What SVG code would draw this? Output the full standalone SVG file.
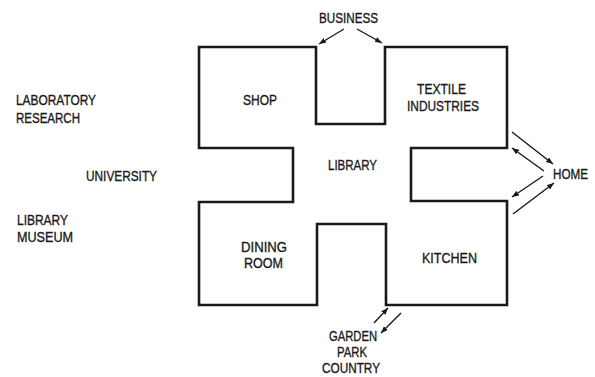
<svg xmlns="http://www.w3.org/2000/svg" width="595" height="377" viewBox="0 0 595 377">
<style>
text{font-family:"Liberation Sans",Arial,sans-serif;font-size:14.5px;fill:#1a1a1a;stroke:#1a1a1a;stroke-width:0.35;text-anchor:middle}
.plan{fill:none;stroke:#1a1a1a;stroke-width:2.6;stroke-linejoin:miter}
.arr{stroke:#1a1a1a;stroke-width:1.4;fill:none;marker-end:url(#ah)}
</style>
<defs>
<marker id="ah" viewBox="0 0 10 8" refX="10" refY="4" markerWidth="7" markerHeight="5.6" markerUnits="userSpaceOnUse" orient="auto">
<path d="M0,0 L10,4 L0,8 Z" fill="#1a1a1a"/>
</marker>
</defs>
<rect width="595" height="377" fill="#fff"/>
<g id="plan">
<path class="plan" d="M199,47 H316 V124 H385 V47 H507 V148 H411 V201 H507 V305 H386 V224 H317 V305 H199 V202 H293 V148 H199 Z"/>
</g>
<g id="rooms">
<g id="shop"><text x="260" y="104.5" textLength="34" lengthAdjust="spacingAndGlyphs">SHOP</text></g>
<g id="textile"><text x="441.5" y="93.5" textLength="49" lengthAdjust="spacingAndGlyphs">TEXTILE</text><text x="443" y="110.5" textLength="72" lengthAdjust="spacingAndGlyphs">INDUSTRIES</text></g>
<g id="library"><text x="352.5" y="169.5" textLength="49" lengthAdjust="spacingAndGlyphs">LIBRARY</text></g>
<g id="dining"><text x="264" y="251.5" textLength="46" lengthAdjust="spacingAndGlyphs">DINING</text><text x="263.5" y="267.5" textLength="39" lengthAdjust="spacingAndGlyphs">ROOM</text></g>
<g id="kitchen"><text x="449.5" y="262.5" textLength="55" lengthAdjust="spacingAndGlyphs">KITCHEN</text></g>
</g>
<g id="outside">
<g id="business"><text x="348.5" y="22.5" textLength="59" lengthAdjust="spacingAndGlyphs">BUSINESS</text></g>
<g id="laboratory"><text x="56" y="104.5" textLength="80" lengthAdjust="spacingAndGlyphs">LABORATORY</text><text x="48" y="122.5" textLength="64" lengthAdjust="spacingAndGlyphs">RESEARCH</text></g>
<g id="university"><text x="121.5" y="180.5" textLength="71" lengthAdjust="spacingAndGlyphs">UNIVERSITY</text></g>
<g id="museum"><text x="42.5" y="224.5" textLength="51" lengthAdjust="spacingAndGlyphs">LIBRARY</text><text x="45" y="241.5" textLength="56" lengthAdjust="spacingAndGlyphs">MUSEUM</text></g>
<g id="home"><text x="570.5" y="178.5" textLength="35" lengthAdjust="spacingAndGlyphs">HOME</text></g>
<g id="garden"><text x="353" y="340.5" textLength="48" lengthAdjust="spacingAndGlyphs">GARDEN</text><text x="352" y="356.5" textLength="30" lengthAdjust="spacingAndGlyphs">PARK</text><text x="351" y="372.5" textLength="58" lengthAdjust="spacingAndGlyphs">COUNTRY</text></g>
</g>
<g id="connectors">
<line class="arr" x1="344" y1="29" x2="319" y2="44"/>
<line class="arr" x1="357" y1="29" x2="382" y2="43"/>
<line class="arr" x1="512" y1="132" x2="553" y2="164"/>
<line class="arr" x1="544" y1="171" x2="512" y2="148"/>
<line class="arr" x1="543" y1="176" x2="512" y2="197"/>
<line class="arr" x1="513" y1="214" x2="554" y2="183"/>
<line class="arr" x1="374" y1="323" x2="388" y2="308"/>
<line class="arr" x1="401" y1="313" x2="381" y2="333"/>
</g>
</svg>
